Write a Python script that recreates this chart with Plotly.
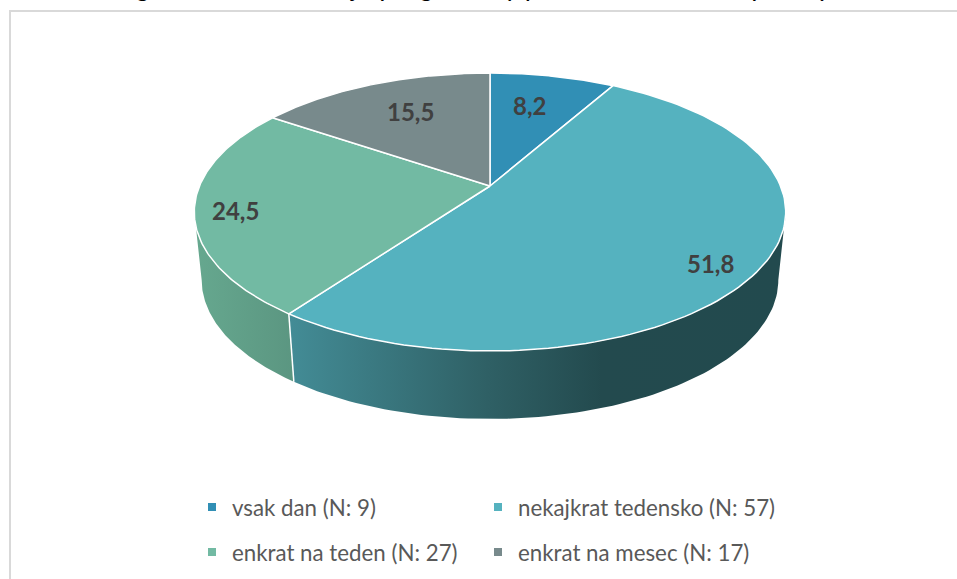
import numpy as np
import plotly.graph_objects as go

categories = ["vsak dan (N: 9)", "nekajkrat tedensko (N: 57)", "enkrat na teden (N: 27)", "enkrat na mesec (N: 17)"]
shares = [8.2, 51.8, 24.5, 15.5]
colors = ["#318fb5", "#55b2bf", "#72baa3", "#788a8c"]
title_text = "Graf 4: Pogostost obiskovanja programa (vprašani mesto vstopa, %)"

# Side-wall gradients for the two wedges that face the viewer
side_gradients = {
    1: [[0, "#438c96"], [0.4, "#2f6065"], [0.63, "#234a4e"], [1, "#224a4e"]],
    2: [[0, "#66a88f"], [1, "#5b9681"]],
}
label_xy = [(529, 105), (710, 263), (235, 210), (410, 111)]
legend_xy = [(192, 507), (478, 507), (192, 552), (478, 552)]

# Perspective projection of the pie disc onto the page (page pixels)
CX, CY, A, B, K = 490, 186, 290.5, 134.1, 0.187
DEPTH, SHRINK = 68, 0.975
VISIBLE = (100.8, 259.2)  # wall visible between these angles


def top(deg):
    t = np.radians(deg)
    d = 1 + K * np.cos(t)
    return CX + A * np.sin(t) / d, CY - B * np.cos(t) / d


def bottom(deg):
    x, y = top(deg)
    return CX + SHRINK * (x - CX), y + DEPTH


edges = np.concatenate([[0], np.cumsum(shares)]) / sum(shares) * 360
fig = go.Figure()

# side walls
for i, scale in side_gradients.items():
    a0 = max(edges[i], VISIBLE[0])
    a1 = min(edges[i + 1], VISIBLE[1])
    th = np.linspace(a0, a1, 90)
    xt, yt = top(th)
    xb, yb = bottom(th)
    fig.add_trace(go.Scatter(
        x=np.concatenate([xt, xb[::-1]]), y=np.concatenate([yt, yb[::-1]]),
        mode="lines", line=dict(width=0), fill="toself",
        fillgradient=dict(type="horizontal", colorscale=scale),
        hoverinfo="skip", showlegend=False))

# wall separator
sep = edges[2]
sx0, sy0 = top(sep)
sx1, sy1 = bottom(sep)
fig.add_trace(go.Scatter(x=[sx0, sx1], y=[sy0, sy1], mode="lines",
                         line=dict(color="white", width=1.5), hoverinfo="skip", showlegend=False))

# top faces
for i, (name, c) in enumerate(zip(categories, colors)):
    th = np.linspace(edges[i], edges[i + 1], 120)
    xt, yt = top(th)
    fig.add_trace(go.Scatter(
        x=np.concatenate([[CX], xt, [CX]]), y=np.concatenate([[CY], yt, [CY]]),
        mode="lines", line=dict(color="white", width=1.5), fill="toself", fillcolor=c,
        name=name, hoverinfo="name", showlegend=False))

# legend entries: one single-entry legend per category, in a 2x2 layout
legends = {}
for i, (name, c, pos) in enumerate(zip(categories, colors, legend_xy)):
    key = "legend" if i == 0 else f"legend{i + 1}"
    fig.add_trace(go.Scatter(
        x=[None], y=[None], mode="markers", name=name,
        marker=dict(symbol="square", size=8, color=c), legend=key))
    legends[key] = dict(orientation="h", xanchor="left", yanchor="middle",
                        x=pos[0] / 957, y=1 - pos[1] / 579, itemclick=False,
                        font=dict(family="Lato", size=22.3, color="#595959"),
                        bgcolor="rgba(0,0,0,0)")

annotations = [
    dict(x=xy[0], y=xy[1], xref="x", yref="y", text=f"<b>{v:.1f}</b>".replace(".", ","),
         showarrow=False, font=dict(family="Lato", size=24, color="#404040"))
    for v, xy in zip(shares, label_xy)
]
annotations.append(dict(x=12, y=3, xref="x", yref="y", xanchor="left", yanchor="bottom",
                        text=f"<i>{title_text}</i>", showarrow=False,
                        font=dict(family="Liberation Sans", size=27, color="black")))

fig.update_layout(
    width=957, height=579, autosize=False,
    margin=dict(l=0, r=0, t=0, b=0),
    paper_bgcolor="white", plot_bgcolor="white",
    xaxis=dict(range=[0, 957], visible=False, fixedrange=True),
    yaxis=dict(range=[579, 0], visible=False, fixedrange=True),
    annotations=annotations,
    shapes=[dict(type="rect", xref="x", yref="y", x0=10, y0=11, x1=1100, y1=800,
                 line=dict(color="#d9d9d9", width=2), layer="below")],
    **legends,
)
fig.write_html("out.html", config=dict(displayModeBar=False),
               post_script="document.body.style.margin='0';document.body.style.overflow='hidden';")
